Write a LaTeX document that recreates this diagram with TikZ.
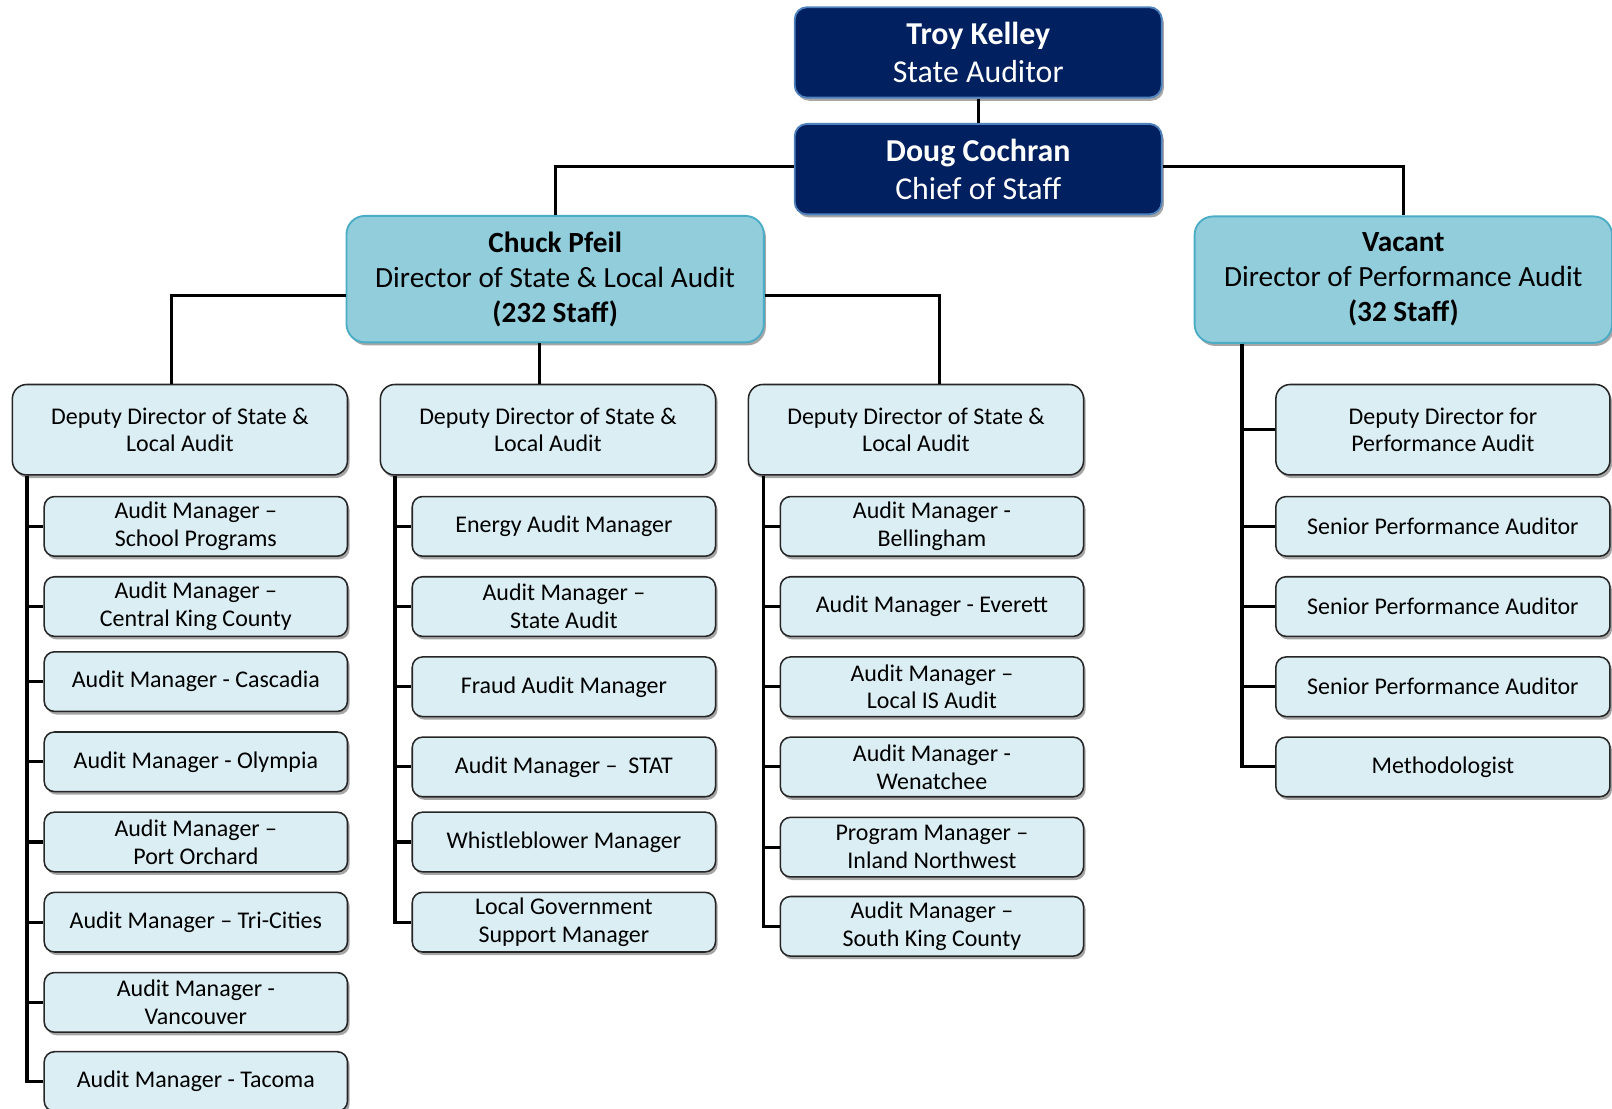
\documentclass[tikz,border=0pt]{standalone}
\usepackage{fontspec}
\setmainfont{Carlito}
\usetikzlibrary{shadows}
\definecolor{navy}{RGB}{0,32,96}
\definecolor{navyedge}{RGB}{79,129,189}
\definecolor{midfill}{RGB}{146,205,220}
\definecolor{midedge}{RGB}{75,172,198}
\definecolor{lowfill}{RGB}{219,238,244}
\tikzset{
  topbox/.style={draw=navyedge, line width=1.8pt, fill=navy, text=white, rounded corners=12pt,
    minimum width=357pt, minimum height=88pt, align=center, font=\fontsize{31}{37}\selectfont,
    drop shadow={shadow xshift=2pt, shadow yshift=-3pt, opacity=0.35, fill=black}},
  midbox/.style={draw=midedge, line width=1.8pt, fill=midfill, rounded corners=18pt,
    minimum width=406pt, minimum height=123pt, align=center, font=\fontsize{28.5}{34}\selectfont,
    drop shadow={shadow xshift=2pt, shadow yshift=-3pt, opacity=0.35, fill=black}},
  depbox/.style={draw=black!85, line width=1.5pt, fill=lowfill, rounded corners=14pt,
    minimum width=326pt, minimum height=88pt, align=center, font=\fontsize{23.3}{27}\selectfont,
    drop shadow={shadow xshift=2pt, shadow yshift=-3pt, opacity=0.35, fill=black}},
  mgrbox/.style={draw=black!85, line width=1.5pt, fill=lowfill, rounded corners=10pt,
    minimum width=295pt, minimum height=58pt, align=center, font=\fontsize{23.3}{27}\selectfont,
    drop shadow={shadow xshift=2pt, shadow yshift=-3pt, opacity=0.35, fill=black}},
  wide/.style={minimum width=325pt},
  conn/.style={line width=3pt, black}
}
\begin{document}
\begin{tikzpicture}[x=1pt,y=-1pt]
\useasboundingbox (0,0) rectangle (1568,1078.7);
% top
\node[topbox] (troy) at (951.5,51) {\textbf{Troy Kelley}\\State Auditor};
\node[topbox] (doug) at (951.5,164.5) {\textbf{Doug Cochran}\\Chief of Staff};
\node[midbox] (chuck) at (540,271.5) {\textbf{Chuck Pfeil}\\Director of State \& Local Audit\\\textbf{(232 Staff)}};
\node[midbox] (vac) at (1365,272) {\textbf{Vacant}\\Director of Performance Audit\\\textbf{(32 Staff)}};
% deputies
\node[depbox] (d1) at (175,418) {Deputy Director of State \&\\Local Audit};
\node[depbox] (d2) at (533,418) {Deputy Director of State \&\\Local Audit};
\node[depbox] (d3) at (891,418) {Deputy Director of State \&\\Local Audit};
\node[depbox,wide] (d4) at (1403.5,418) {Deputy Director for\\Performance Audit};
% column 1
\node[mgrbox] (a1) at (190.5,512) {Audit Manager –\\School Programs};
\node[mgrbox] (a2) at (190.5,590) {Audit Manager –\\Central King County};
\node[mgrbox] (a3) at (190.5,663) {Audit Manager - Cascadia};
\node[mgrbox] (a4) at (190.5,741) {Audit Manager - Olympia};
\node[mgrbox] (a5) at (190.5,819) {Audit Manager –\\Port Orchard};
\node[mgrbox] (a6) at (190.5,897) {Audit Manager – Tri-Cities};
\node[mgrbox] (a7) at (190.5,975) {Audit Manager -\\Vancouver};
\node[mgrbox] (a8) at (190.5,1052) {Audit Manager - Tacoma};
% column 2
\node[mgrbox] (b1) at (548.5,512) {Energy Audit Manager};
\node[mgrbox] (b2) at (548.5,590) {Audit Manager –\\State Audit};
\node[mgrbox] (b3) at (548.5,668) {Fraud Audit Manager};
\node[mgrbox] (b4) at (548.5,746) {Audit Manager –\ \ STAT};
\node[mgrbox] (b5) at (548.5,819) {Whistleblower Manager};
\node[mgrbox] (b6) at (548.5,897) {Local Government\\Support Manager};
% column 3
\node[mgrbox] (c1) at (906.5,512) {Audit Manager -\\Bellingham};
\node[mgrbox] (c2) at (906.5,590) {Audit Manager - Everett};
\node[mgrbox] (c3) at (906.5,668) {Audit Manager –\\Local IS Audit};
\node[mgrbox] (c4) at (906.5,746) {Audit Manager -\\Wenatchee};
\node[mgrbox] (c5) at (906.5,824) {Program Manager –\\Inland Northwest};
\node[mgrbox] (c6) at (906.5,901) {Audit Manager –\\South King County};
% column 4
\node[mgrbox,wide] (e1) at (1403.5,512) {Senior Performance Auditor};
\node[mgrbox,wide] (e2) at (1403.5,590) {Senior Performance Auditor};
\node[mgrbox,wide] (e3) at (1403.5,668) {Senior Performance Auditor};
\node[mgrbox,wide] (e4) at (1403.5,746) {Methodologist};
% connectors
\draw[conn] (troy) -- (doug);
\draw[conn] ([yshift=2.5pt]doug.west) -| (chuck.north);
\draw[conn] ([yshift=2.5pt]doug.east) -| (vac.north);
\draw[conn] ([yshift=-15.5pt]chuck.west) -| ([xshift=-8pt]d1.north);
\draw[conn] ([xshift=-15pt]chuck.south) -- ([xshift=-8pt]d2.north);
\draw[conn] ([yshift=-15.5pt]chuck.east) -| ([xshift=23pt]d3.north);
\foreach \n in {a1,a2,a3,a4,a5,a6,a7,a8}
  \draw[conn] ([xshift=15pt]d1.south west) |- (\n.west);
\foreach \n in {b1,b2,b3,b4,b5,b6}
  \draw[conn] ([xshift=15pt]d2.south west) |- (\n.west);
\foreach \n in {c1,c2,c3,c4,c5,c6}
  \draw[conn] ([xshift=15pt]d3.south west) |- (\n.west);
\foreach \n in {d4,e1,e2,e3,e4}
  \draw[conn] ([xshift=47pt]vac.south west) |- (\n.west);
\end{tikzpicture}
\end{document}
